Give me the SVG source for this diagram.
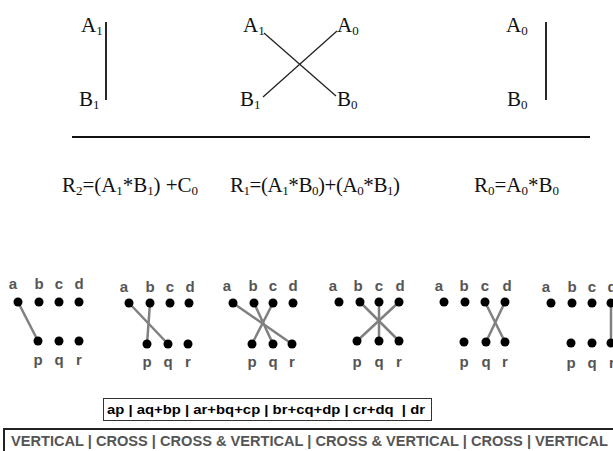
<svg xmlns="http://www.w3.org/2000/svg" width="613" height="451" viewBox="0 0 613 451">
<style>
.serif{font-family:"Liberation Serif","Times New Roman",serif;font-size:21px;fill:#111}
.sub{font-size:13px}
.lbl{font-family:"Liberation Sans",Arial,sans-serif;font-size:15px;font-weight:bold;fill:#555;text-anchor:middle}
.dot{fill:#000}
.blk{stroke:#111;stroke-width:1.8;fill:none}
.thin{stroke:#222;stroke-width:1.3;fill:none}
.con{stroke:#808080;stroke-width:2.5;fill:none;stroke-linecap:round}
.box1{font-family:"Liberation Sans",Arial,sans-serif;font-size:13px;font-weight:bold;fill:#000}
.box2{font-family:"Liberation Sans",Arial,sans-serif;font-size:14px;font-weight:bold;fill:#555}
</style>
<rect width="613" height="451" fill="#fff"/>

<g id="top-left">
<text class="serif" x="81" y="32">A<tspan class="sub" dy="3">1</tspan></text>
<text class="serif" x="79" y="106">B<tspan class="sub" dy="3">1</tspan></text>
<line class="blk" x1="106" y1="22" x2="106" y2="100"/>
</g>
<g id="top-middle">
<text class="serif" x="243" y="32">A<tspan class="sub" dy="3">1</tspan></text>
<text class="serif" x="337" y="32">A<tspan class="sub" dy="3">0</tspan></text>
<text class="serif" x="240" y="106">B<tspan class="sub" dy="3">1</tspan></text>
<text class="serif" x="337" y="106">B<tspan class="sub" dy="3">0</tspan></text>
<line class="thin" x1="264" y1="33" x2="336" y2="96"/>
<line class="thin" x1="337" y1="31" x2="263" y2="97"/>
</g>
<g id="top-right">
<text class="serif" x="506" y="32">A<tspan class="sub" dy="3">0</tspan></text>
<text class="serif" x="507" y="106">B<tspan class="sub" dy="3">0</tspan></text>
<line class="blk" x1="546" y1="22" x2="546" y2="100"/>
</g>
<line id="sum-line" x1="72" y1="137" x2="590" y2="137" stroke="#111" stroke-width="2"/>

<g id="formulas">
<text class="serif" x="62" y="192" textLength="136">R<tspan class="sub" dy="3">2</tspan><tspan dy="-3">=(A</tspan><tspan class="sub" dy="3">1</tspan><tspan dy="-3">*B</tspan><tspan class="sub" dy="3">1</tspan><tspan dy="-3">) +C</tspan><tspan class="sub" dy="3">0</tspan></text>
<text class="serif" x="230" y="192" textLength="170">R<tspan class="sub" dy="3">1</tspan><tspan dy="-3">=(A</tspan><tspan class="sub" dy="3">1</tspan><tspan dy="-3">*B</tspan><tspan class="sub" dy="3">0</tspan><tspan dy="-3">)+(A</tspan><tspan class="sub" dy="3">0</tspan><tspan dy="-3">*B</tspan><tspan class="sub" dy="3">1</tspan><tspan dy="-3">)</tspan></text>
<text class="serif" x="474" y="192">R<tspan class="sub" dy="3">0</tspan><tspan dy="-3">=A</tspan><tspan class="sub" dy="3">0</tspan><tspan dy="-3">*B</tspan><tspan class="sub" dy="3">0</tspan></text>
</g>

<g id="connectors">
<line class="con" x1="18" y1="302" x2="38" y2="341"/>
<line class="con" x1="129" y1="303" x2="168" y2="344"/>
<line class="con" x1="150" y1="303" x2="147" y2="344"/>
<line class="con" x1="233" y1="303" x2="292" y2="344"/>
<line class="con" x1="254" y1="303" x2="273" y2="344"/>
<line class="con" x1="273" y1="303" x2="252" y2="344"/>
<line class="con" x1="360" y1="302" x2="399" y2="341"/>
<line class="con" x1="379" y1="302" x2="379" y2="341"/>
<line class="con" x1="399" y1="302" x2="357" y2="341"/>
<line class="con" x1="485" y1="302" x2="505" y2="342"/>
<line class="con" x1="505" y1="302" x2="486" y2="342"/>
<line class="con" x1="611" y1="303" x2="611" y2="343"/>
</g>

<g id="diagram-1">
<text class="lbl" x="13" y="289">a</text><text class="lbl" x="39" y="289">b</text><text class="lbl" x="59" y="289">c</text><text class="lbl" x="79" y="289">d</text>
<circle class="dot" cx="18" cy="302" r="4.5"/><circle class="dot" cx="39" cy="302" r="4.5"/><circle class="dot" cx="59" cy="302" r="4.5"/><circle class="dot" cx="79" cy="302" r="4.5"/>
<circle class="dot" cx="38" cy="341" r="4.5"/><circle class="dot" cx="59" cy="341" r="4.5"/><circle class="dot" cx="79" cy="341" r="4.5"/>
<text class="lbl" x="38" y="365">p</text><text class="lbl" x="59" y="365">q</text><text class="lbl" x="79" y="365">r</text>
</g>
<g id="diagram-2">
<text class="lbl" x="124" y="292">a</text><text class="lbl" x="150" y="292">b</text><text class="lbl" x="170" y="292">c</text><text class="lbl" x="190" y="292">d</text>
<circle class="dot" cx="129" cy="303" r="4.5"/><circle class="dot" cx="150" cy="303" r="4.5"/><circle class="dot" cx="170" cy="303" r="4.5"/><circle class="dot" cx="189" cy="303" r="4.5"/>
<circle class="dot" cx="147" cy="344" r="4.5"/><circle class="dot" cx="168" cy="344" r="4.5"/><circle class="dot" cx="188" cy="344" r="4.5"/>
<text class="lbl" x="147" y="367">p</text><text class="lbl" x="168" y="367">q</text><text class="lbl" x="188" y="367">r</text>
</g>
<g id="diagram-3">
<text class="lbl" x="227" y="291">a</text><text class="lbl" x="253" y="291">b</text><text class="lbl" x="273" y="291">c</text><text class="lbl" x="293" y="291">d</text>
<circle class="dot" cx="233" cy="303" r="4.5"/><circle class="dot" cx="254" cy="303" r="4.5"/><circle class="dot" cx="273" cy="303" r="4.5"/><circle class="dot" cx="293" cy="303" r="4.5"/>
<circle class="dot" cx="252" cy="344" r="4.5"/><circle class="dot" cx="273" cy="344" r="4.5"/><circle class="dot" cx="292" cy="344" r="4.5"/>
<text class="lbl" x="252" y="367">p</text><text class="lbl" x="273" y="367">q</text><text class="lbl" x="292" y="367">r</text>
</g>
<g id="diagram-4">
<text class="lbl" x="333" y="291">a</text><text class="lbl" x="358" y="291">b</text><text class="lbl" x="379" y="291">c</text><text class="lbl" x="400" y="291">d</text>
<circle class="dot" cx="339" cy="302" r="4.5"/><circle class="dot" cx="360" cy="302" r="4.5"/><circle class="dot" cx="379" cy="302" r="4.5"/><circle class="dot" cx="399" cy="302" r="4.5"/>
<circle class="dot" cx="357" cy="341" r="4.5"/><circle class="dot" cx="379" cy="341" r="4.5"/><circle class="dot" cx="399" cy="341" r="4.5"/>
<text class="lbl" x="357" y="367">p</text><text class="lbl" x="379" y="367">q</text><text class="lbl" x="399" y="367">r</text>
</g>
<g id="diagram-5">
<text class="lbl" x="439" y="291">a</text><text class="lbl" x="464" y="291">b</text><text class="lbl" x="485" y="291">c</text><text class="lbl" x="507" y="291">d</text>
<circle class="dot" cx="444" cy="302" r="4.5"/><circle class="dot" cx="465" cy="302" r="4.5"/><circle class="dot" cx="485" cy="302" r="4.5"/><circle class="dot" cx="505" cy="302" r="4.5"/>
<circle class="dot" cx="464" cy="342" r="4.5"/><circle class="dot" cx="486" cy="342" r="4.5"/><circle class="dot" cx="505" cy="342" r="4.5"/>
<text class="lbl" x="464" y="367">p</text><text class="lbl" x="486" y="367">q</text><text class="lbl" x="505" y="367">r</text>
</g>
<g id="diagram-6">
<text class="lbl" x="546" y="292">a</text><text class="lbl" x="572" y="292">b</text><text class="lbl" x="592" y="292">c</text><text class="lbl" x="612" y="292">d</text>
<circle class="dot" cx="551" cy="303" r="4.5"/><circle class="dot" cx="572" cy="303" r="4.5"/><circle class="dot" cx="592" cy="303" r="4.5"/><circle class="dot" cx="611" cy="303" r="4.5"/>
<circle class="dot" cx="571" cy="343" r="4.5"/><circle class="dot" cx="592" cy="343" r="4.5"/><circle class="dot" cx="611" cy="343" r="4.5"/>
<text class="lbl" x="571" y="368">p</text><text class="lbl" x="592" y="368">q</text><text class="lbl" x="612" y="368">r</text>
</g>

<g id="terms-box">
<rect x="103.5" y="398.5" width="328" height="22" fill="#fff" stroke="#333" stroke-width="1"/>
<text class="box1" x="107" y="414" textLength="318" lengthAdjust="spacingAndGlyphs" xml:space="preserve">ap | aq+bp | ar+bq+cp | br+cq+dp | cr+dq  | dr</text>
</g>
<g id="type-box">
<rect x="4" y="429" width="620" height="30" fill="#fff" stroke="#222" stroke-width="2"/>
<text class="box2" x="11" y="446" textLength="597" lengthAdjust="spacingAndGlyphs">VERTICAL | CROSS | CROSS &amp; VERTICAL | CROSS &amp; VERTICAL | CROSS | VERTICAL</text>
</g>
</svg>
